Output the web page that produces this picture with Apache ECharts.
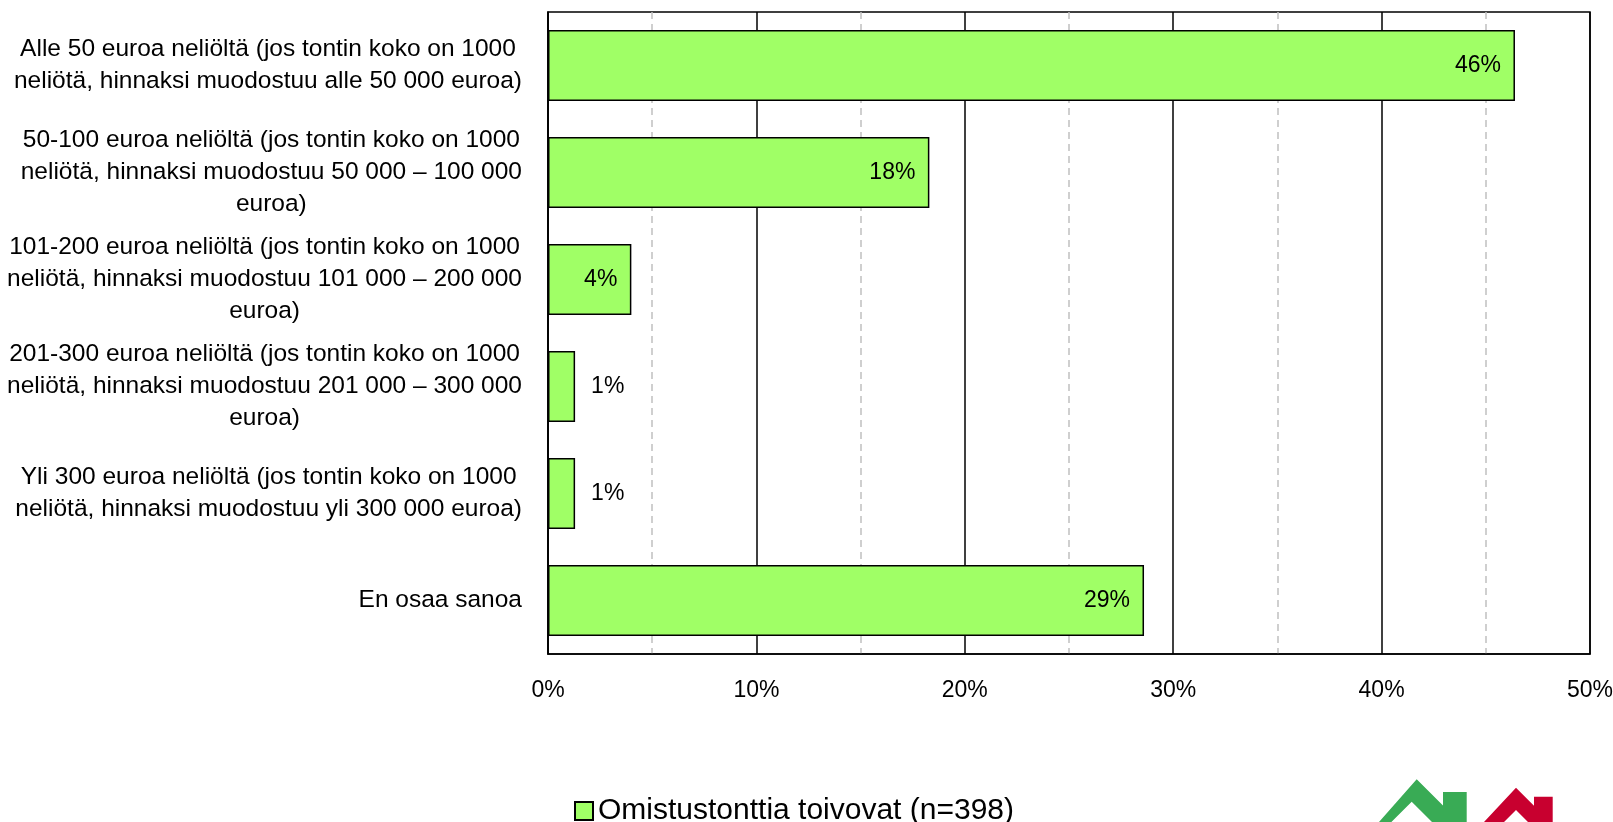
<!DOCTYPE html>
<html>
<head>
<meta charset="utf-8">
<script src="https://cdn.jsdelivr.net/npm/echarts@6/dist/echarts.min.js"></script>
<style>
  html, body { margin: 0; padding: 0; background: #fff; }
  #chart { width: 1613px; height: 822px; }
</style>
</head>
<body>
<div id="chart"></div>
<script>
  // vastausvaihtoehdot (rivitys kuten alkuperäisessä)
  const categories = [
    'Alle 50 euroa neliöltä (jos tontin koko on 1000\nneliötä, hinnaksi muodostuu alle 50 000 euroa)',
    '50-100 euroa neliöltä (jos tontin koko on 1000\nneliötä, hinnaksi muodostuu 50 000 – 100 000\neuroa)',
    '101-200 euroa neliöltä (jos tontin koko on 1000\nneliötä, hinnaksi muodostuu 101 000 – 200 000\neuroa)',
    '201-300 euroa neliöltä (jos tontin koko on 1000\nneliötä, hinnaksi muodostuu 201 000 – 300 000\neuroa)',
    'Yli 300 euroa neliöltä (jos tontin koko on 1000\nneliötä, hinnaksi muodostuu yli 300 000 euroa)',
    'En osaa sanoa'
  ]
  const values = [46.4, 18.3, 4.0, 1.3, 1.3, 28.6]
  const seriesName = 'Omistustonttia toivovat (n=398)'
  const xTicks = [0, 10, 20, 30, 40, 50]

  const font = 'Liberation Sans'
  const myChart = echarts.init(document.getElementById('chart'))

  const option = {
    animation: false,
    textStyle: { fontFamily: font, color: '#000' },
    grid: {
      left: 548, right: 23, top: 12, bottom: 168,
      outerBoundsMode: 'none',
      show: true, borderColor: '#000', borderWidth: 1.5
    },
    xAxis: {
      type: 'value',
      min: xTicks[0],
      max: xTicks[xTicks.length - 1],
      interval: 10,
      axisLine: { show: true, lineStyle: { color: '#000', width: 1.5 } },
      axisTick: { show: false },
      axisLabel: { formatter: '{value}%', fontSize: 23, color: '#000', margin: 25 },
      splitLine: { show: true, lineStyle: { color: '#000', width: 1.5 } },
      minorTick: { show: false, splitNumber: 2 },
      minorSplitLine: { show: true, lineStyle: { color: '#c0c0c0', width: 1.5, type: [7, 5] } }
    },
    yAxis: {
      type: 'category',
      inverse: true,
      data: categories,
      axisLine: { show: true, lineStyle: { color: '#000', width: 1.5 } },
      axisTick: { show: false },
      splitLine: { show: false },
      axisLabel: {
        margin: 26,
        align: 'right',
        formatter: v => v.split('\n').map(l => '{c|' + l + '}').join('\n'),
        rich: {
          c: { align: 'center', fontSize: 24.5, lineHeight: 32, fontFamily: font, color: '#000' }
        }
      }
    },
    legend: {
      left: 569,
      top: 791,
      icon: 'rect',
      itemWidth: 18,
      itemHeight: 18,
      itemGap: 8,
      textStyle: { fontSize: 30, color: '#000', fontFamily: font },
      data: [seriesName]
    },
    series: [{
      name: seriesName,
      type: 'bar',
      barWidth: 71,
      itemStyle: { color: '#a0ff66', borderColor: '#000', borderWidth: 1.5 },
      label: {
        show: true,
        fontSize: 23,
        color: '#000',
        distance: 14,
        position: 'insideRight',
        formatter: p => Math.round(p.value) + '%'
      },
      // pienet palkit: arvo palkin ulkopuolelle
      data: values.map(v => ({
        value: v,
        label: v < 3 ? { position: 'right', distance: 16 } : {}
      }))
    }],
    graphic: [
      {
        type: 'polygon',
        shape: { points: [[1379, 822], [1416.7, 779.3], [1443, 805.6], [1443, 792], [1466.7, 792], [1466.7, 822], [1432, 822], [1411.7, 801.7], [1391.4, 822]] },
        style: { fill: '#39ab55' }
      },
      {
        type: 'polygon',
        shape: { points: [[1484, 822], [1516, 787.7], [1534, 805.7], [1534, 796.7], [1552.7, 796.7], [1552.7, 822], [1528, 822], [1516, 810], [1504, 822]] },
        style: { fill: '#c8002f' }
      }
    ]
  }
  myChart.setOption(option)
</script>
</body>
</html>
